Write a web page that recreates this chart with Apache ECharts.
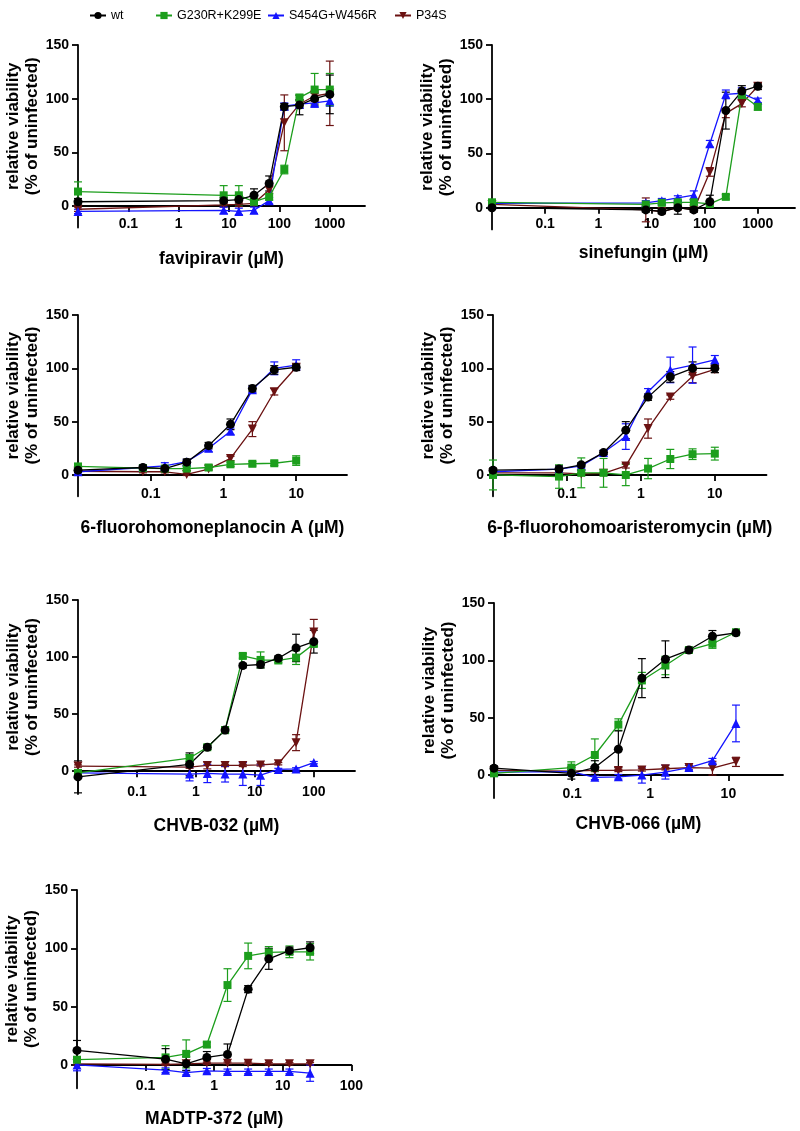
<!DOCTYPE html>
<html><head><meta charset="utf-8">
<script src="https://cdn.jsdelivr.net/npm/echarts@6/dist/echarts.min.js"></script>
<style>html,body{margin:0;padding:0;background:#fff}#c{width:800px;height:1131px}</style>
</head><body><div id="c"></div>
<script>
// ---------- data ----------
const seriesNames = ['wt', 'G230R+K299E', 'S454G+W456R', 'P34S'];
const yTicks = [0, 50, 100, 150];

// favipiravir
const favConc = [0, 7.8125, 15.625, 31.25, 62.5, 125, 250, 500, 1000];
const favTicks = [0.1, 1, 10, 100, 1000];
const favWt = [4, 5, 6, 10, 21, 92.5, 94, 100, 104];
const favWtSd = [3, 3, 4, 6, 7, 3, 9, 5, 18];
const favG = [13.5, 10, 10, 4, 8.5, 34, 101, 108.5, 108.5];
const favGSd = [9, 9, 9, 3, 3, 4, 3, 15, 15];
const favS = [-5, -4, -5, -4, 5, 93, 95, 96, 98];
const favSSd = [2, 3, 3, 3, 3, 3, 4, 4, 5];
const favP = [-3, 1, 1.5, 2.5, 15, 77.5, 95, 102.5, 105];
const favPSd = [2, 2, 2, 2, 3, 26, 4, 5, 30];

// sinefungin
const sinConc = [0, 7.8125, 15.625, 31.25, 62.5, 125, 250, 500, 1000];
const sinTicks = [0.1, 1, 10, 100, 1000];
const sinWt = [0, -2, -3.5, 0, -2, 5.5, 89.5, 107.5, 112];
const sinWtSd = [1, 2, 2, 6, 2, 6, 17, 5, 3];
const sinG = [5, 3, 4.5, 5, 5, 3.5, 10, 104, 93];
const sinGSd = [1, 2, 2, 2, 2, 2, 2, 3, 3];
const sinS = [4, 4.5, 6.5, 9, 11.5, 59, 104.5, 105.5, 99];
const sinSSd = [1, 2, 2, 2, 4, 3, 4, 5, 2];
const sinP = [3, -2, -3.5, 0, -2, 33, 87, 96, 112];
const sinPSd = [1, 11, 2, 2, 2, 4, 4, 3, 3];

// 6-fluorohomoneplanocin A
const fhnConc = [0, 0.078125, 0.15625, 0.3125, 0.625, 1.25, 2.5, 5, 10];
const fhnTicks = [0.1, 1, 10];
const fhnWt = [4.5, 7, 6, 12, 27.5, 47.5, 81, 98.5, 101];
const fhnWtSd = [2, 2, 2, 3, 3, 5, 3, 4, 3];
const fhnG = [8, 6.5, 6, 6, 7, 10, 10.5, 11, 13.5];
const fhnGSd = [2, 2, 2, 2, 2, 2, 2, 2, 4.5];
const fhnS = [3, 7, 8.5, 12.5, 25, 41, 80, 100, 103];
const fhnSSd = [2, 2, 3, 2, 3, 3, 3, 6, 5];
const fhnP = [3.5, 3, 3, 0.5, 5.5, 15.5, 43, 78, 101];
const fhnPSd = [1, 1, 1, 1, 1, 2, 7, 3, 3];

// 6-beta-fluorohomoaristeromycin
const fhaConc = [0, 0.078125, 0.15625, 0.3125, 0.625, 1.25, 2.5, 5, 10];
const fhaTicks = [0.1, 1, 10];
const fhaWt = [4.5, 5.5, 9.5, 21, 42, 73, 92, 100, 100];
const fhaWtSd = [2, 3, 2, 2, 8, 3, 5, 6, 4];
const fhaG = [0, -1.5, 2, 2, 0, 6, 15, 19.5, 20];
const fhaGSd = [14, 11, 14, 13.5, 10, 9.5, 9, 5, 6];
const fhaS = [3, 5.5, 8.5, 21, 36, 78, 98.5, 103, 108];
const fhaSSd = [2, 2, 2, 2, 12, 3, 12, 17, 4];
const fhaP = [2, 2, 1, 1.5, 8.5, 43.5, 73, 92.5, 99];
const fhaPSd = [1, 1, 1, 1, 2, 9, 2, 6, 3];

// CHVB-032
const c32Conc = [0, 0.78125, 1.5625, 3.125, 6.25, 12.5, 25, 50, 100];
const c32Ticks = [0.1, 1, 10, 100];
const c32Wt = [-5, 6, 21, 36, 92.5, 93.5, 99, 108, 113.5];
const c32WtSd = [14, 10, 2, 3, 2, 3, 2, 12, 10];
const c32G = [-1.5, 11.5, 21, 36, 101, 97.5, 97, 99.5, 111.5];
const c32GSd = [2, 3, 2, 2, 2, 7, 2, 6, 2];
const c32S = [-1.5, -2.5, -2, -2.5, -2.5, -3.5, 1.5, 2, 7.5];
const c32SSd = [2, 6, 8, 7, 10, 9, 1, 1, 1];
const c32P = [4.5, 3.5, 5, 5, 5, 5.5, 6.5, 25, 122];
const c32PSd = [1, 1, 3, 1, 1, 1, 1, 7, 11];

// CHVB-066
const c66Conc = [0, 0.09765625, 0.1953125, 0.390625, 0.78125, 1.5625, 3.125, 6.25, 12.5];
const c66Ticks = [0.1, 1, 10];
const c66Wt = [6, 1.5, 6.5, 22.5, 84.5, 101, 109, 121, 124];
const c66WtSd = [2, 5, 6, 16, 17, 16, 2, 5, 2];
const c66G = [1.5, 6.5, 17.5, 44, 82.5, 95.5, 109, 114.5, 124.5];
const c66GSd = [1, 5, 14, 5, 7, 8, 2, 4, 2];
const c66S = [2.5, 3, -2, -1.5, 0, 2.5, 6.5, 12.5, 45];
const c66SSd = [1, 2, 2, 2, 7, 6, 2, 2, 16];
const c66P = [4, 3.5, 4, 4, 4.5, 5.5, 6.5, 6, 11.5];
const c66PSd = [1, 1, 1, 1, 1, 1, 2, 6, 4];

// MADTP-372
const madConc = [0, 0.1953125, 0.390625, 0.78125, 1.5625, 3.125, 6.25, 12.5, 25];
const madTicks = [0.1, 1, 10, 100];
const madWt = [12.5, 5, 1, 6.5, 9, 65, 91, 98, 100.5];
const madWtSd = [8.5, 9, 6, 5, 9, 3, 9, 3, 5];
const madG = [4.5, 6.5, 9.5, 17.5, 68.5, 93.5, 96.5, 97, 97];
const madGSd = [2, 10, 12, 2, 14, 11, 5, 5, 7];
const madS = [0, -4.5, -6.5, -5, -5.5, -5.5, -5.5, -5.5, -7];
const madSSd = [5, 2, 2, 2, 2, 2, 2, 2, 7];
const madP = [1, 0.5, 1, 1.5, 1.5, 1.5, 1, 1, 1];
const madPSd = [1, 1, 1, 1, 1, 1, 1, 1, 1];

// ---------- layout / style ----------
const FONT = "'Liberation Sans', Arial, Helvetica, sans-serif";
const ZERO_POS = 0.01; // zero concentration is drawn at the axis start
const colors = ['#000000', '#1c9e1c', '#1414ff', '#6b1212'];
const symbols = ['circle', 'rect', 'triangle', 'triangle'];
const symRot = [0, 0, 0, 180];
const symSize = [9, 8, 9, 9];

const panels = [
  {conc: favConc, vals: [favWt, favG, favS, favP], sds: [favWtSd, favGSd, favSSd, favPSd], ticks: favTicks, xMax: 5000,
   title: 'favipiravir (µM)', grid: {left: 78, top: 45, width: 287, height: 182.5}, lm: -10.5, ng: 22.5},
  {conc: sinConc, vals: [sinWt, sinG, sinS, sinP], sds: [sinWtSd, sinGSd, sinSSd, sinPSd], ticks: sinTicks, xMax: 5000,
   title: 'sinefungin (µM)', grid: {left: 492, top: 45, width: 303, height: 184.4}, lm: -12, ng: 15},
  {conc: fhnConc, vals: [fhnWt, fhnG, fhnS, fhnP], sds: [fhnWtSd, fhnGSd, fhnSSd, fhnPSd], ticks: fhnTicks, xMax: 50,
   title: '6-fluorohomoneplanocin A (µM)', grid: {left: 78, top: 315, width: 269, height: 181.3}, lm: -9, ng: 22.5},
  {conc: fhaConc, vals: [fhaWt, fhaG, fhaS, fhaP], sds: [fhaWtSd, fhaGSd, fhaSSd, fhaPSd], ticks: fhaTicks, xMax: 50,
   title: '6-β-fluorohomoaristeromycin (µM)', grid: {left: 493, top: 315, width: 273.5, height: 181.3}, lm: -9, ng: 22.5},
  {conc: c32Conc, vals: [c32Wt, c32G, c32S, c32P], sds: [c32WtSd, c32GSd, c32SSd, c32PSd], ticks: c32Ticks, xMax: 500,
   title: 'CHVB-032 (µM)', grid: {left: 78, top: 600, width: 277, height: 194}, lm: -8.5, ng: 23},
  {conc: c66Conc, vals: [c66Wt, c66G, c66S, c66P], sds: [c66WtSd, c66GSd, c66SSd, c66PSd], ticks: c66Ticks, xMax: 50,
   title: 'CHVB-066 (µM)', grid: {left: 494, top: 603, width: 289, height: 195}, lm: -11, ng: 17.5},
  {conc: madConc, vals: [madWt, madG, madS, madP], sds: [madWtSd, madGSd, madSSd, madPSd], ticks: madTicks, xMax: 100,
   title: 'MADTP-372 (µM)', grid: {left: 77, top: 890, width: 274.4, height: 198.3}, lm: -9.5, ng: 22}
];

const grids = [], xAxes = [], yAxes = [], series = [];
panels.forEach((p, i) => {
  grids.push(Object.assign({containLabel: false}, p.grid));
  xAxes.push({
    type: 'log', logBase: 10, gridIndex: i, min: ZERO_POS, max: p.xMax,
    name: p.title, nameLocation: 'middle', nameGap: p.ng,
    nameTextStyle: {fontFamily: FONT, fontWeight: 'bold', fontSize: 17.5, color: '#000'},
    axisLine: {onZero: true, lineStyle: {color: '#000', width: 1.8}},
    axisTick: {show: true, length: 6, lineStyle: {color: '#000', width: 1.8}, customValues: p.ticks},
    axisLabel: {customValues: p.ticks, margin: p.lm, fontFamily: FONT, fontWeight: 'bold', fontSize: 14, color: '#000',
      formatter: v => String(v)},
    splitLine: {show: false}, minorTick: {show: false}
  });
  yAxes.push({
    type: 'value', gridIndex: i, min: -20, max: 150,
    name: 'relative viability\n(% of uninfected)', nameLocation: 'middle', nameGap: 36,
    nameTextStyle: {fontFamily: FONT, fontWeight: 'bold', fontSize: 17, lineHeight: 19, color: '#000', align: 'center',
      padding: [0, 0, 0, 20]},
    axisLine: {show: true, onZero: false, lineStyle: {color: '#000', width: 1.8}},
    axisTick: {show: true, length: 6, lineStyle: {color: '#000', width: 1.8}, customValues: yTicks},
    axisLabel: {customValues: yTicks, margin: 9, fontFamily: FONT, fontWeight: 'bold', fontSize: 14, color: '#000'},
    splitLine: {show: false}
  });
  [3, 2, 1, 0].forEach(k => {
    const color = colors[k];
    const xs = p.conc.map(c => c === 0 ? ZERO_POS : c);
    series.push({
      type: 'custom', name: seriesNames[k] + ' SD', xAxisIndex: i, yAxisIndex: i, silent: true, clip: false,
      data: xs.map((x, j) => [x, p.vals[k][j] - p.sds[k][j], p.vals[k][j] + p.sds[k][j]]),
      encode: {x: 0, y: [1, 2]},
      renderItem: (params, api) => {
        const x = api.value(0);
        const lo = api.coord([x, api.value(1)]);
        const hi = api.coord([x, api.value(2)]);
        const w = 4;
        const st = {stroke: color, lineWidth: 1.2, fill: null};
        return {type: 'group', children: [
          {type: 'line', shape: {x1: lo[0], y1: lo[1], x2: hi[0], y2: hi[1]}, style: st},
          {type: 'line', shape: {x1: hi[0] - w, y1: hi[1], x2: hi[0] + w, y2: hi[1]}, style: st},
          {type: 'line', shape: {x1: lo[0] - w, y1: lo[1], x2: lo[0] + w, y2: lo[1]}, style: st}
        ]};
      }
    });
    series.push({
      type: 'line', name: seriesNames[k], xAxisIndex: i, yAxisIndex: i,
      data: xs.map((x, j) => [x, p.vals[k][j]]),
      symbol: symbols[k], symbolSize: symSize[k], symbolRotate: symRot[k], showAllSymbol: true,
      lineStyle: {color: color, width: 1.3}, itemStyle: {color: color}, clip: false
    });
  });
});

const legendPos = [84, 150, 262, 389];
const legends = seriesNames.map((n, k) => ({
  data: [n], left: legendPos[k], top: 4, itemWidth: 16, itemHeight: 9, itemGap: 0,
  textStyle: {fontFamily: FONT, fontSize: 12.5, color: '#000'}
}));

const chart = echarts.init(document.getElementById('c'), null, {renderer: 'canvas'});
chart.setOption({
  backgroundColor: '#fff', animation: false,
  legend: legends, grid: grids, xAxis: xAxes, yAxis: yAxes, series: series
});
</script></body></html>
